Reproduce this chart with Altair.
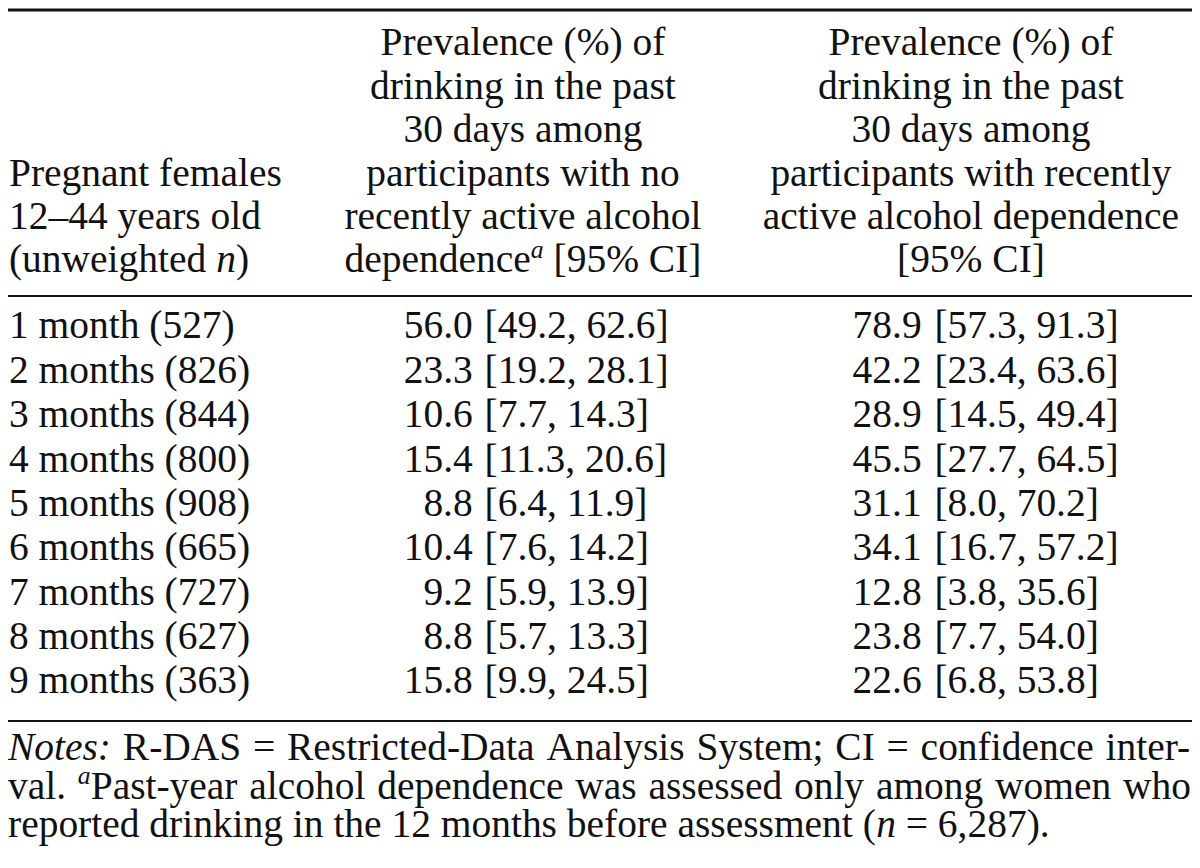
import altair as alt
import pandas as pd

# ---------------- data ----------------
months = ["1 month", "2 months", "3 months", "4 months", "5 months",
          "6 months", "7 months", "8 months", "9 months"]
n_unweighted = [527, 826, 844, 800, 908, 665, 727, 627, 363]
est_no = [56.0, 23.3, 10.6, 15.4, 8.8, 10.4, 9.2, 8.8, 15.8]
lo_no = [49.2, 19.2, 7.7, 11.3, 6.4, 7.6, 5.9, 5.7, 9.9]
hi_no = [62.6, 28.1, 14.3, 20.6, 11.9, 14.2, 13.9, 13.3, 24.5]
est_dep = [78.9, 42.2, 28.9, 45.5, 31.1, 34.1, 12.8, 23.8, 22.6]
lo_dep = [57.3, 23.4, 14.5, 27.7, 8.0, 16.7, 3.8, 7.7, 6.8]
hi_dep = [91.3, 63.6, 49.4, 64.5, 70.2, 57.2, 35.6, 54.0, 53.8]

header_col1 = ["", "", "", "Pregnant females", "12–44 years old",
               [("(unweighted ", "r"), ("n", "i"), (")", "r")]]
header_col2 = ["Prevalence (%) of", "drinking in the past", "30 days among",
               "participants with no", "recently active alcohol",
               [("dependence", "r"), ("a", "s"), (" [95% CI]", "r")]]
header_col3 = ["Prevalence (%) of", "drinking in the past", "30 days among",
               "participants with recently", "active alcohol dependence",
               "[95% CI]"]

notes_lines = [
    # (list of words; each word = list of runs), justified?
    ([[("Notes:", "i")], "R-DAS", "=", "Restricted-Data", "Analysis", "System;",
      "CI", "=", "confidence", "inter-"], True),
    (["val.", [("a", "s"), ("Past-year", "r")], "alcohol", "dependence", "was",
      "assessed", "only", "among", "women", "who"], True),
    ([[("reported drinking in the 12 months before assessment (", "r"),
       ("n", "i"), (" = 6,287).", "r")]], False),
]

# ---------------- layout (reference pixel units) ----------------
REF_W, REF_H = 1200, 868
W = 1184
H = round(REF_H * W / REF_W)
EM = 40.0
SUP = 0.65
SCALE = W / REF_W

ROMAN = {' ': 250, '%': 833, '(': 333, ')': 333, ',': 250, '-': 333, '.': 250,
         ':': 278, ';': 278, '=': 564, '[': 333, ']': 333, '–': 500,
         'A': 722, 'C': 667, 'D': 722, 'I': 333, 'N': 722, 'P': 556, 'R': 667,
         'S': 556, 'a': 444, 'b': 500, 'c': 444, 'd': 500, 'e': 444, 'f': 333,
         'g': 500, 'h': 500, 'i': 278, 'k': 500, 'l': 278, 'm': 778, 'n': 500,
         'o': 500, 'p': 500, 'r': 333, 's': 389, 't': 278, 'u': 500, 'v': 500,
         'w': 722, 'y': 500}
ITALIC = {'N': 667, 'o': 500, 't': 278, 'e': 444, 's': 389, ':': 333,
          'n': 500, 'a': 500}


def run_width(text, style):
    if style == "i":
        return sum(ITALIC.get(c, 500) for c in text) * EM / 1000
    if style == "s":
        return sum(ITALIC.get(c, 500) for c in text) * EM * SUP / 1000
    return sum(ROMAN.get(c, 500) if not c.isdigit() else 500 for c in text) * EM / 1000


def as_runs(item):
    return [(item, "r")] if isinstance(item, str) else item


rows = []


def place_runs(runs, x0, base):
    x = x0
    for t, st in runs:
        lead = len(t) - len(t.lstrip(" "))
        shown = t.strip(" ")
        if shown:
            rows.append({"text": shown, "x": x + run_width(" " * lead, st),
                         "y": base, "style": st, "align": "left"})
        x += run_width(t, st)


def place_line(item, anchor, base, how):
    runs = as_runs(item)
    total = sum(run_width(t, s) for t, s in runs)
    if how == "left":
        x0 = anchor
    elif how == "center":
        x0 = anchor - total / 2
    else:
        x0 = anchor - total
    place_runs(runs, x0, base)


COL1_X = 1
COL2_C = 522
COL3_C = 976
COL2_SPLIT = 471   # right edge of estimate, column 2
COL2_CI = 483      # left edge of bracket, column 2
COL3_SPLIT = 926
COL3_CI = 939

HEAD_BASE0, HEAD_PITCH = 48, 44
ROW_BASE0, ROW_PITCH = 335, 45
NOTE_BASE0, NOTE_PITCH = 763, 39

for k in range(6):
    b = HEAD_BASE0 + k * HEAD_PITCH
    if header_col1[k]:
        place_line(header_col1[k], COL1_X, b, "left")
    place_line(header_col2[k], COL2_C, b, "center")
    place_line(header_col3[k], COL3_C, b, "center")

for k in range(len(months)):
    b = ROW_BASE0 + k * ROW_PITCH
    place_line(f"{months[k]} ({n_unweighted[k]})", COL1_X, b, "left")
    rows.append({"text": f"{est_no[k]:.1f}", "x": COL2_SPLIT, "y": b, "style": "r", "align": "right"})
    rows.append({"text": f"[{lo_no[k]:.1f}, {hi_no[k]:.1f}]", "x": COL2_CI, "y": b, "style": "r", "align": "left"})
    rows.append({"text": f"{est_dep[k]:.1f}", "x": COL3_SPLIT, "y": b, "style": "r", "align": "right"})
    rows.append({"text": f"[{lo_dep[k]:.1f}, {hi_dep[k]:.1f}]", "x": COL3_CI, "y": b, "style": "r", "align": "left"})

for k, (words, justify) in enumerate(notes_lines):
    b = NOTE_BASE0 + k * NOTE_PITCH
    wruns = [as_runs(w) for w in words]
    widths = [sum(run_width(t, s) for t, s in r) for r in wruns]
    space = ROMAN[' '] * EM / 1000
    if justify and len(words) > 1:
        space = (REF_W - 1 - sum(widths)) / (len(words) - 1)
    x = 0
    for r, wd in zip(wruns, widths):
        place_runs(r, x, b)
        x += wd + space

df = pd.DataFrame(rows)
df.loc[df["style"] == "s", "y"] = df.loc[df["style"] == "s", "y"] - 15

rules = pd.DataFrame({"x": [0, 0, 0], "x2": [REF_W, REF_W, REF_W],
                      "y": [2, 292, 723], "w": [3, 2, 2]})

xs = alt.Scale(domain=[0, REF_W], range=[0, W])
ys = alt.Scale(domain=[0, REF_H], range=[0, H])
FONT = "Liberation Serif"


def text_layer(style, align, size, italic):
    m = alt.Chart(df).transform_filter(
        (alt.datum.style == style) & (alt.datum.align == align)
    ).mark_text(font=FONT, fontSize=size, align=align, baseline="alphabetic",
                fontStyle="italic" if italic else "normal", color="#111111")
    return m.encode(x=alt.X("x:Q", scale=xs, axis=None),
                    y=alt.Y("y:Q", scale=ys, axis=None),
                    text="text:N")


fs = EM * SCALE
layers = [
    alt.Chart(rules).mark_rule(color="#111111").encode(
        x=alt.X("x:Q", scale=xs, axis=None), x2="x2:Q",
        y=alt.Y("y:Q", scale=ys, axis=None),
        size=alt.Size("w:Q", scale=None, legend=None)),
    text_layer("r", "left", fs, False),
    text_layer("r", "right", fs, False),
    text_layer("i", "left", fs, True),
    text_layer("s", "left", fs * SUP, True),
]

chart = alt.layer(*layers).properties(
    width=W, height=H, padding=0, autosize="none"
).configure_view(stroke=None)

chart.save("out.html", embed_options={"renderer": "svg", "actions": False})
